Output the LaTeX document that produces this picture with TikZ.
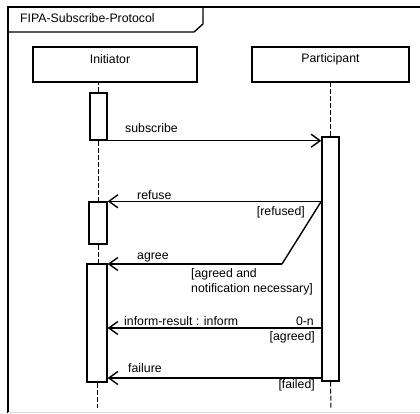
\documentclass[tikz,border=0pt]{standalone}
\usepackage{fontspec}
\setmainfont{Liberation Sans}
\usetikzlibrary{arrows.meta}
\begin{document}
\begin{tikzpicture}[x=1pt,y=-1pt,
  every node/.style={font=\fontsize{12.3}{15}\selectfont},
  frameline/.style={line width=1.5pt},
  headbox/.style={draw,line width=1.4pt,fill=white,inner sep=0pt,minimum height=35pt},
  actbox/.style={draw,line width=1.4pt,fill=white,inner sep=0pt},
  life/.style={line width=1pt,dash pattern=on 5pt off 2pt},
  msg/.style={line width=1.4pt,-{Straight Barb[length=9pt,width=13pt,line width=1.4pt]}},
  lbl/.style={inner sep=0pt}]
\useasboundingbox (0,0) rectangle (420,414);
% frame
\draw[frameline] (8,413) -- (8,7) -- (421,7);
\draw[black!15,line width=0.8pt] (8,412.5) -- (421,412.5);
\draw[line width=1.3pt] (8,32) -- (194,32) -- (203,24) -- (203,7);
\node[lbl,anchor=base west] (title) at (20,23) {FIPA-Subscribe-Protocol};
% heads
\node[headbox,minimum width=164pt] (ini) at (115,64.5) {};
\node[lbl,anchor=base] (initxt) at (110,64) {Initiator};
\node[headbox,minimum width=157pt] (par) at (330.5,64.5) {};
\node[lbl,anchor=base] (partxt) at (330.5,63) {Participant};
% activations
\node[actbox,minimum width=17pt,minimum height=47pt] (i1) at (98.5,116.5) {};
\node[actbox,minimum width=18pt,minimum height=42pt] (i2) at (98,223) {};
\node[actbox,minimum width=20pt,minimum height=118pt] (i3) at (97,323) {};
\node[actbox,minimum width=17pt,minimum height=244pt] (p1) at (330.5,259) {};
% lifelines
\coordinate (iend) at (97,408);
\coordinate (pend) at (331,408);
\draw[life] (i1.north) -- (i1.north |- ini.south);
\draw[life] (i1.south) -- (i1.south |- i2.north);
\draw[life] (i2.south) -- (i2.south |- i3.north);
\draw[life] (i3.south) -- (iend);
\draw[life] (p1.north) -- (p1.north |- par.south);
\draw[life] (p1.south) -- (pend);
% messages
\coordinate (bend) at (282,264);
\coordinate (yinf) at (0,328);
\coordinate (yfail) at (0,378);
\draw[msg] (i1.south east) -- (i1.south east -| p1.west);
\draw[msg] (p1.west |- i2.north) -- (i2.north east);
\draw[line width=1.4pt] (p1.west |- i2.north) -- (bend);
\draw[msg] (bend) -- (bend -| i3.east);
\draw[msg] (p1.west |- yinf) -- (i3.east |- yinf);
\draw[msg] (p1.west |- yfail) -- (i3.east |- yfail);
% labels
\node[lbl,anchor=base west] (lsub) at (125,133) {subscribe};
\node[lbl,anchor=base west] (lref) at (137,200) {refuse};
\node[lbl,anchor=base east] (lrefd) at (305,215) {[refused]};
\node[lbl,anchor=base west] (lagr) at (137,259) {agree};
\node[lbl,anchor=base west] (lagd1) at (191,277) {[agreed and};
\node[lbl,anchor=base west] (lagd2) at (191,292) {notification necessary]};
\node[lbl,anchor=base west] (linf) at (124,325) {inform-result : inform};
\node[lbl,anchor=base east] (lmul) at (314,325) {0-n};
\node[lbl,anchor=base east] (lagd) at (315,340) {[agreed]};
\node[lbl,anchor=base west] (lfail) at (128,372) {failure};
\node[lbl,anchor=base east] (lfaild) at (315,388) {[failed]};
\end{tikzpicture}
\end{document}
